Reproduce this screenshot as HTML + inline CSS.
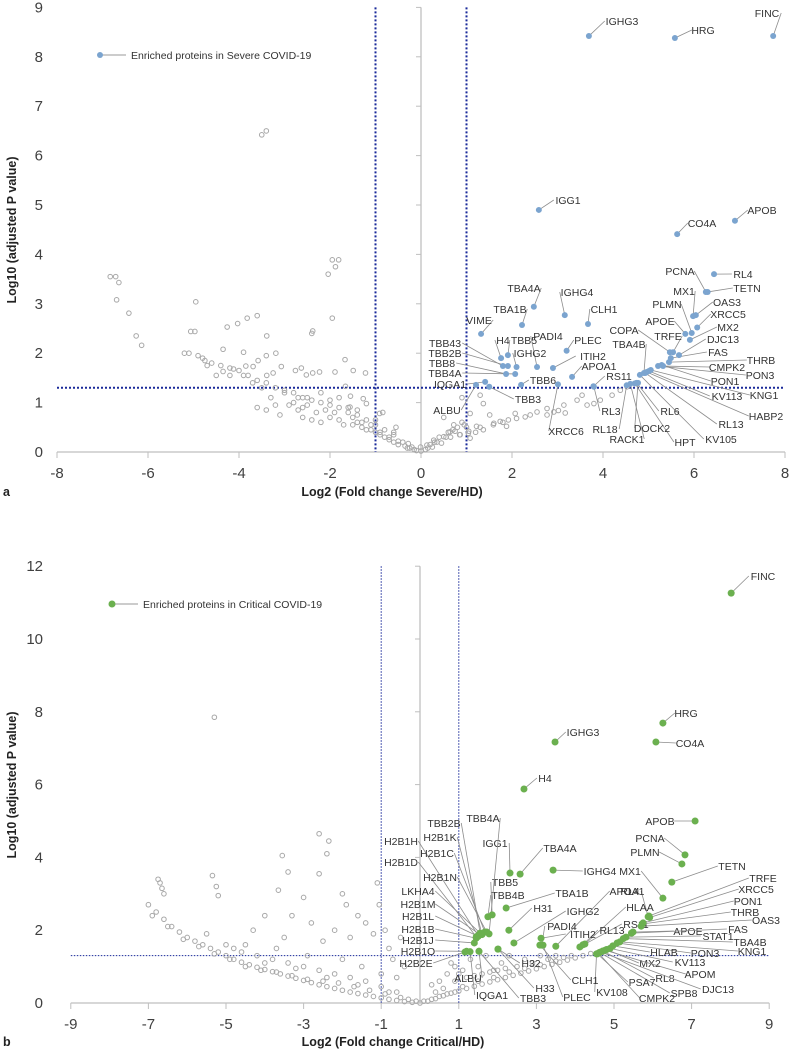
<!DOCTYPE html>
<html><head><meta charset="utf-8"><style>
body{margin:0;background:#fff;}
svg{display:block;font-family:"Liberation Sans",sans-serif;}
.tk{font-size:15px;fill:#404040;}
.ttl{font-size:12.5px;font-weight:bold;fill:#222;}
.lb{font-size:10.5px;fill:#333;}
</style></head><body>
<svg id="chart" width="792" height="1050" viewBox="0 0 792 1050"></svg>
<script>
// ---------- Panel a data ----------
const aGrayX=[-3.5,-3.4,-6.83,-6.71,-6.64,-6.69,-6.42,-6.26,-6.14,-4.95,-5.06,-4.97,-4.75,-4.35,-4.26,-4.03,-3.82,-3.6,-3.39,-3.4,-3.19,-3.58,-3.69,-3.85,-3.9,-4.12,-4.35,-4.2,-3.9,-3.39,-3.25,-3.07,-2.76,-2.63,-2.52,-2.38,-2.23,-2.4,-2.38,-2.04,-1.95,-1.81,-1.88,-1.95,-1.67,-1.49,-1.22,-1.89,-1.66,-1.55,-1.56,-1.27,-1.2,-0.91,-0.84,-0.55,-0.28,
-5.2,-5.1,-4.9,-4.8,-4.6,-4.4,-4.2,-4.0,-3.8,-3.6,-3.4,-3.2,-3.0,-2.8,-2.6,-2.4,-2.2,-2.0,-1.8,-1.6,-1.4,-1.2,-1.0,-0.8,-0.6,-0.4,-0.2,0,
-3,-2.8,-2.6,-2.5,-2.3,-2.2,-2.0,-2.0,-1.8,-1.8,-1.7,-1.5,-1.4,-1.3,-1.2,-1.1,-1.0,-0.9,-0.8,-0.7,-0.6,-0.5,-0.3,-0.1,-3.6,-3.4,-3.2,-2.9,-2.6,-2.4,-2.2,-3.3,-3.1,-2.7,
1.08,1.37,1.51,1.92,2.07,2.29,2.55,2.77,3.02,3.17,3.43,3.54,3.65,3.8,3.94,4.2,4.38,4.53,1.88,1.74,0.72,0.64,0.28,-0.01,1.22,1.37,1.59,1.04,0.86,0.5,0.13,1.08,2.77,2.92,3.14,
0.4,0.6,0.8,0.9,0.5,0.3,0.2,0.7,1.0,1.2,0.9,1.3,0.1,0.15,0.35,0.55,0.75,0.95,
-1.5,-1.3,-1.1,-0.9,-0.7,-0.5,-0.35,-0.25,-0.15,-1.6,-1.4,-1.0,-0.6,-2.1,-1.9,-2.5,-2.7,-3.5,-3.7,-4.5,-4.7,0.25,0.45,0.65,0.85,1.05,1.3,1.6,1.8,2.1,2.4];
const aGrayY=[6.42,6.5,3.55,3.55,3.43,3.08,2.81,2.35,2.16,3.04,2.44,2.44,1.85,2.08,2.53,2.6,2.71,2.76,2.35,1.95,2.0,1.85,1.73,1.74,2.02,1.68,1.63,1.55,1.55,1.55,1.6,1.73,1.65,1.7,1.56,1.6,1.62,2.4,2.45,3.6,3.89,3.89,3.75,2.71,1.87,1.65,1.6,1.62,1.33,1.13,0.91,1.08,0.98,0.78,0.8,0.5,0.17,
2.0,2.0,1.95,1.9,1.8,1.75,1.7,1.65,1.55,1.45,1.4,1.3,1.25,1.2,1.1,1.05,1.0,0.95,0.9,0.8,0.75,0.65,0.55,0.45,0.35,0.2,0.1,0.02,
1.2,1.0,0.9,1.1,0.8,1.2,0.7,1.05,0.65,1.1,0.55,0.55,0.6,0.5,0.45,0.55,0.4,0.35,0.3,0.3,0.2,0.15,0.08,0.03,0.9,0.85,0.95,0.95,0.7,0.65,0.6,1.1,0.75,0.85,
0.78,0.98,0.75,0.65,0.78,0.71,0.81,0.88,0.84,0.79,1.05,1.15,0.95,0.98,1.05,1.15,1.25,1.32,0.52,0.62,0.55,0.41,0.24,0.1,0.52,0.45,0.55,0.38,0.35,0.31,0.14,0.28,0.75,0.81,0.95,
0.3,0.4,0.5,0.6,0.7,0.2,0.15,0.45,0.5,0.4,1.1,1.15,0.05,0.08,0.2,0.3,0.42,0.55,
0.7,0.6,0.45,0.4,0.25,0.22,0.12,0.08,0.05,0.9,0.85,0.65,0.4,0.85,0.8,0.95,1.1,1.3,1.4,1.55,1.75,0.1,0.18,0.3,0.35,0.42,0.5,0.58,0.6,0.68,0.75];
const aNames=["IGHG3","HRG","FINC","IGG1","CO4A","APOB","TBA4A","TBA1B","IGHG4","CLH1","VIME","H4","TBB5","PADI4","IGHG2","PLEC","ITIH2","APOA1","TBB6","XRCC6","TBB43","TBB2B","TBB8","TBB4A","IQGA1","ALBU","TBB3","RS11","RL3","COPA","TBA4B","APOE","PLMN","TRFE","PCNA","RL4","TETN","MX1","OAS3","XRCC5","MX2","DJC13","FAS","THRB","CMPK2","PON3","PON1","KNG1","KV113","HABP2","RL13","KV105","HPT","DOCK2","RL6","RACK1","RL18"];
const aX=[3.69,5.58,7.74,2.59,5.63,6.9,2.48,2.22,3.16,3.67,1.32,1.76,1.91,2.55,2.1,3.2,2.9,3.32,2.2,3.01,1.8,1.91,1.87,2.07,1.41,1.21,1.5,3.79,3.8,5.47,4.9,5.81,5.95,5.54,6.26,6.44,6.3,5.98,6.04,6.07,5.91,5.67,5.49,5.45,5.32,5.21,5.29,5.05,5.01,4.96,4.93,4.81,4.7,4.77,4.74,4.6,4.52];
const aY=[8.42,8.38,8.42,4.9,4.41,4.68,2.94,2.57,2.77,2.59,2.39,1.9,1.96,1.72,1.72,2.05,1.7,1.52,1.36,1.37,1.74,1.74,1.58,1.58,1.42,1.36,1.32,1.33,1.32,2.02,1.6,2.39,2.41,2.02,3.24,3.6,3.24,2.75,2.77,2.52,2.27,1.96,1.9,1.82,1.74,1.74,1.76,1.66,1.64,1.62,1.6,1.56,1.39,1.4,1.4,1.38,1.35];
const aLabelPos=[[622,21],[703,30],[767,13],[568,200],[702,223],[762,210],[524,288],[510,309],[577,292],[604,309],[479,320],[503,340],[524,340],[548,336],[530,353],[588,340],[593,356],[599,366],[543,380],[566,431],[445,343],[445,353],[442,363],[445,373],[450,384],[447,410],[528,399],[619,376],[611,411],[624,330],[629,344],[660,321],[667,304],[668,336],[680,271],[743,274],[747,288],[684,291],[727,302],[728,314],[728,327],[723,339],[718,352],[761,360],[727,367],[760,375],[725,381],[764,395],[727,396],[766,416],[731,424],[721,439],[685,442],[652,428],[670,411],[627,439],[605,429]];
const aXTicks=[-8,-6,-4,-2,0,2,4,6,8];
const aYTicks=[0,1,2,3,4,5,6,7,8,9];
// ---------- Panel b data ----------
const bGrayX=[-5.3,-6.75,-6.7,-6.65,-6.6,-5.35,-5.25,-5.2,-3.55,-3.65,-3.4,-2.6,-2.35,-2.4,-2.6,-2.0,-1.9,-1.6,-1.4,-1.1,-1.05,-0.9,-0.5,-0.8,-3.0,-3.3,-4.0,-4.3,-2.8,-2.2,-1.8,-2.5,-3.5,-4.5,-1.2,-0.7,-0.4,-0.6,
-7,-6.8,-6.6,-6.4,-6.2,-6,-5.8,-5.6,-5.4,-5.2,-5,-4.8,-4.6,-4.4,-4.2,-4,-3.8,-3.6,-3.4,-3.2,-3,-2.8,-2.6,-2.4,-2.2,-2,-1.8,-1.6,-1.4,-1.2,-1,-0.8,-0.6,-0.4,-0.2,0,
-5.5,-5,-4.6,-4.2,-3.8,-3.4,-3,-2.6,-2.2,-1.8,-1.4,-1,-0.6,-4.8,-4.0,-3.2,-2.4,-1.6,-0.8,-2.0,-1.5,-1.0,-2.9,-3.7,
0.2,0.4,0.6,0.8,1,1.2,1.4,1.6,1.8,2,2.2,2.4,2.6,2.8,3,3.2,3.4,3.6,3.8,4,4.2,4.4,
0.3,0.5,0.7,0.9,1.1,1.3,1.5,1.7,1.9,2.1,2.3,2.5,2.7,2.9,3.1,3.3,3.5,3.7,1.2,1.6,2.0,0.6,0.4,0.9,1.4,1.8,2.2,0.8,1.0,
-6.9,-6.5,-6.1,-5.7,-5.3,-4.9,-4.5,-4.1,-3.7,-3.3,-2.9,-2.5,-2.1,-1.7,-1.3,-0.9,-0.5,-0.3,-0.1,0.1,0.3,0.5,0.7,0.9,1.1,1.5,1.9,2.3,2.7,3.1,3.5,3.9];
const bGrayY=[7.85,3.4,3.3,3.15,3.0,3.5,3.2,2.95,4.05,3.1,3.6,4.65,4.45,4.1,3.55,3.0,2.7,2.4,2.2,3.3,2.7,2.0,1.8,1.5,2.9,2.4,2.4,2.0,2.2,2.0,1.8,1.7,1.8,1.6,1.9,1.2,1.0,0.7,
2.7,2.5,2.3,2.1,1.95,1.8,1.7,1.6,1.5,1.4,1.3,1.2,1.12,1.05,0.98,0.92,0.86,0.8,0.74,0.68,0.62,0.56,0.5,0.45,0.4,0.35,0.3,0.26,0.22,0.18,0.14,0.1,0.07,0.04,0.02,0,
1.9,1.6,1.4,1.3,1.2,1.1,1.0,0.9,0.8,0.7,0.6,0.45,0.3,1.5,1.1,0.95,0.7,0.5,0.3,1.2,1.0,0.8,1.3,1.5,
0.05,0.12,0.2,0.27,0.33,0.4,0.46,0.52,0.58,0.64,0.7,0.76,0.82,0.88,0.94,1.0,1.06,1.12,1.18,1.24,1.3,1.36,
0.5,0.6,0.8,1.0,0.9,1.2,1.0,1.3,0.9,1.1,1.3,1.0,1.2,1.1,1.3,1.2,1.3,1.25,0.7,0.8,0.9,0.4,0.3,0.6,0.75,0.85,0.95,1.1,0.8,
2.4,2.1,1.75,1.55,1.35,1.2,1.0,0.9,0.85,0.75,0.65,0.6,0.55,0.45,0.35,0.25,0.15,0.1,0.05,0.05,0.1,0.18,0.25,0.3,0.45,0.6,0.7,0.85,0.95,1.05,1.15,1.3];
const bNames=["FINC","HRG","CO4A","IGHG3","H4","APOB","PCNA","PLMN","TETN","MX1","RL4","TRFE","XRCC5","PON1","THRB","OAS3","APOE","FAS","STAT1","TBA4B","KNG1","PON3","HLAB","KV113","MX2","APOM","RL8","DJC13","SPB8","CMPK2","PSA7","KV108","HLAA","RS11","RL13","APOA1","ITIH2","PADI4","IGHG2","H31","TBA1B","IGHG4","TBA4A","IGG1","TBB5","TBB4B","TBB4A","TBB2B","H2B1K","H2B1H","H2B1C","H2B1D","H2B1N","LKHA4","H2B1M","H2B1L","H2B1B","H2B1J","H2B1O","H2B2E","ALBU","IQGA1","TBB3","H32","H33","CLH1","PLEC"];
const bX=[8.02,6.26,6.08,3.48,2.68,7.09,6.83,6.75,6.49,6.26,5.88,5.9,5.92,5.75,5.73,5.7,5.49,5.45,5.31,5.24,5.15,5.08,4.97,4.9,4.81,4.77,4.71,4.66,4.63,4.6,4.57,4.55,4.25,4.12,4.2,3.5,3.12,3.14,2.42,2.29,2.22,3.43,2.58,2.32,1.86,1.75,1.78,1.55,1.6,1.5,1.67,1.45,1.72,1.57,1.55,1.5,1.45,1.4,1.2,1.16,1.52,1.29,1.52,2.01,2.01,3.09,3.17];
const bY=[11.26,7.69,7.17,7.17,5.88,5.0,4.07,3.82,3.32,2.88,2.37,2.39,2.35,2.2,2.17,2.11,1.95,1.92,1.81,1.77,1.68,1.65,1.57,1.5,1.47,1.45,1.43,1.4,1.39,1.37,1.35,1.35,1.62,1.54,1.6,1.56,1.78,1.59,1.65,2.0,2.61,3.65,3.54,3.57,2.42,2.37,1.9,1.92,1.88,1.85,1.95,1.82,1.95,1.9,1.88,1.83,1.78,1.65,1.42,1.4,1.42,1.41,1.42,1.48,1.48,1.59,1.59];
const bLabelPos=[[763,576],[686,713],[690,743],[583,732],[545,778],[660,821],[650,838],[645,852],[732,866],[630,871],[630,891],[763,878],[756,889],[748,901],[745,912],[766,920],[688,931],[738,929],[718,936],[750,942],[752,951],[705,953],[664,952],[690,962],[650,963],[700,974],[665,978],[718,989],[684,993],[657,998],[642,982],[612,992],[640,907],[636,924],[612,930],[627,891],[583,934],[562,926],[583,911],[543,908],[572,893],[600,871],[560,848],[495,843],[505,882],[508,895],[483,818],[444,823],[440,837],[401,841],[437,853],[401,862],[440,877],[418,891],[418,904],[418,916],[418,929],[418,940],[418,951],[416,963],[468,978],[492,995],[533,998],[531,963],[545,988],[585,980],[577,997]];
const bXTicks=[-9,-7,-5,-3,-1,1,3,5,7,9];
const bYTicks=[0,2,4,6,8,10,12];

const NS="http://www.w3.org/2000/svg";
const svg=document.getElementById('chart');
function mk(tag,attrs,parent,text){const e=document.createElementNS(NS,tag);for(const k in attrs)e.setAttribute(k,attrs[k]);if(text!==undefined)e.textContent=text;(parent||svg).appendChild(e);return e;}

function panel(p){
  const sx=v=>p.x0+v*p.ux, sy=v=>p.y0-v*p.uy;
  const g=mk('g',{});
  
  
  const xa=mk('line',{x1:sx(p.xT[0]),x2:sx(p.xT[p.xT.length-1]),y1:p.y0,y2:p.y0,stroke:'#bfbfbf','stroke-width':1.3},g);
  
  
  p.xT.forEach(t=>{
    mk('line',{x1:sx(t),x2:sx(t),y1:p.y0,y2:p.y0+6,stroke:'#bfbfbf'},g);
    const tl=mk('text',{x:sx(t),y:p.y0+26,'text-anchor':'middle',class:'tk'},g,String(t));
    
    
  });
  const ya=mk('line',{x1:sx(0),x2:sx(0),y1:sy(p.yT[p.yT.length-1]),y2:p.y0,stroke:'#bfbfbf','stroke-width':1.3},g);
  
  
  p.yT.forEach(t=>{
    mk('line',{x1:sx(0)-5,x2:sx(0),y1:sy(t),y2:sy(t),stroke:'#bfbfbf'},g);
    const tl=mk('text',{x:43,y:sy(t)+5,'text-anchor':'end',class:'tk'},g,String(t));
    
    
  });
  const dash={stroke:'#1a2a9a','stroke-width':p.dw,'stroke-dasharray':p.dw>1.5?'2 2':'1.5 1.5'};
  [-1,1].forEach(v=>{const l=mk('line',Object.assign({x1:sx(v),x2:sx(v),y1:sy(p.yT[p.yT.length-1]),y2:p.y0},dash),g);
    
    });
  const hl=mk('line',Object.assign({x1:sx(p.xT[0]),x2:sx(p.xT[p.xT.length-1]),y1:sy(1.3),y2:sy(1.3)},dash),g);
  
  
  p.gx.forEach((v,i)=>{const c=mk('circle',{cx:sx(v),cy:sy(p.gy[i]),r:2.3,fill:'none',stroke:'#a8a8a8','stroke-width':1},g);
    
    });
  p.names.forEach((n,i)=>{
    const px=sx(p.lx[i]),py=sy(p.ly[i]);const [lx,ly]=p.lp[i];
    const w=n.length*6.1;
    const right=lx>px;
    const ex=right?lx-w/2-2:lx+w/2+2;
    const ln=mk('line',{x1:ex,y1:ly,x2:px,y2:py,stroke:'#8c8c8c','stroke-width':0.8},g);
    
    
    const t=mk('text',{x:lx,y:ly+4,'text-anchor':'middle',class:'lb'},g,n);
    
    
  });
  p.names.forEach((n,i)=>{
    const c=mk('circle',{cx:sx(p.lx[i]),cy:sy(p.ly[i]),r:p.r,fill:p.col},g);
    
    
  });
  const lg=mk('g',{},g);
  
  
  mk('line',{x1:p.leg[0],x2:p.leg[0]+26,y1:p.leg[1],y2:p.leg[1],stroke:'#999'},lg);
  mk('circle',{cx:p.leg[0],cy:p.leg[1],r:p.r,fill:p.col},lg);
  mk('text',{x:p.leg[0]+31,y:p.leg[1]+4,class:'lb','font-size':'11px'},lg,p.legText);
  const xt=mk('text',{x:p.xtPos[0],y:p.xtPos[1],'text-anchor':'middle',class:'ttl'},g,p.xTitle);
  
  
  const yt=mk('text',{x:0,y:0,'text-anchor':'middle',class:'ttl',transform:`translate(16,${p.ytY}) rotate(-90)`},g,'Log10 (adjusted P value)');
  
  
  const pl=mk('text',{x:3,y:p.xtPos[1],class:'ttl','font-size':'14px'},g,p.id);
  
  
}

panel({id:'a',x0:421,ux:45.5,y0:452,uy:49.4,xT:aXTicks,yT:aYTicks,dw:2,gx:aGrayX,gy:aGrayY,names:aNames,lx:aX,ly:aY,lp:aLabelPos,col:'#7ba4cf',r:3,
  leg:[100,55],legText:'Enriched proteins in Severe COVID-19',xTitle:'Log2 (Fold change Severe/HD)',xtPos:[392,496],ytY:230});
panel({id:'b',x0:420,ux:38.8,y0:1003,uy:36.4,xT:bXTicks,yT:bYTicks,dw:1,gx:bGrayX,gy:bGrayY,names:bNames,lx:bX,ly:bY,lp:bLabelPos,col:'#6bb04f',r:3.5,
  leg:[112,604],legText:'Enriched proteins in Critical COVID-19',xTitle:'Log2 (Fold change Critical/HD)',xtPos:[393,1046],ytY:785});
</script>
</body></html>
